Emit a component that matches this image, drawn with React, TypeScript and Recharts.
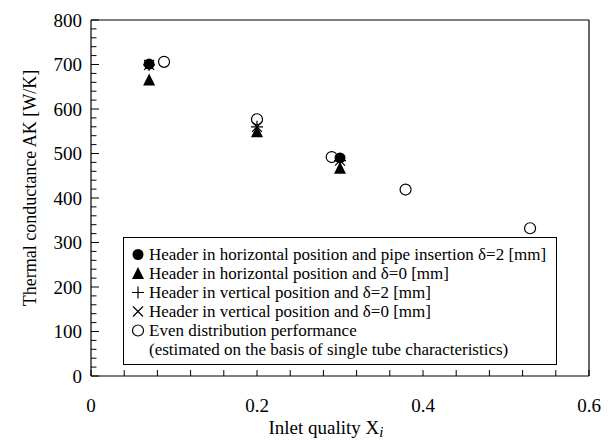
import React from "react";
import {
  ScatterChart, Scatter, XAxis, YAxis, ReferenceLine, Legend,
} from "recharts";

const xHorizPipe = [0.07, 0.3];
const yHorizPipe = [701, 490];

const xHoriz0 = [0.07, 0.2, 0.3];
const yHoriz0 = [665, 549, 467];

const xVert2 = [0.07, 0.2, 0.3];
const yVert2 = [699, 560, 484];

const xVert0 = [0.07, 0.2, 0.3];
const yVert0 = [699, 560, 484];

const xEven = [0.088, 0.2, 0.29, 0.379, 0.529];
const yEven = [706, 577, 492, 419, 332];

const xTicks = Array.from({ length: 16 }, (_, i) => Math.round(i * 4) / 100);
const xTickLabels = [0, 0.2, 0.4, 0.6];
const yTicks = Array.from({ length: 41 }, (_, i) => i * 20);
const yTickLabels = [0, 100, 200, 300, 400, 500, 600, 700, 800];

const FONT = '"Liberation Serif", "Times New Roman", serif';

const toPoints = (xs: number[], ys: number[]) => xs.map((x, i) => ({ x, y: ys[i] }));

type MarkerKind = "dot" | "tri" | "plus" | "cross" | "ring";

function Marker({ kind, cx, cy }: { kind: MarkerKind; cx: number; cy: number }) {
  const r = 5.5;
  switch (kind) {
    case "dot":
      return <circle cx={cx} cy={cy} r={r} fill="#000" />;
    case "ring":
      return <circle cx={cx} cy={cy} r={r} fill="none" stroke="#000" strokeWidth={1.2} />;
    case "tri":
      return <path d={`M${cx},${cy - 6.5} L${cx + 6},${cy + 5.5} L${cx - 6},${cy + 5.5} Z`} fill="#000" />;
    case "plus":
      return <path d={`M${cx - 6},${cy} H${cx + 6} M${cx},${cy - 6} V${cy + 6}`} stroke="#000" strokeWidth={1.2} />;
    case "cross":
      return <path d={`M${cx - 5},${cy - 5} L${cx + 5},${cy + 5} M${cx + 5},${cy - 5} L${cx - 5},${cy + 5}`} stroke="#000" strokeWidth={1.2} />;
  }
}

const series: { name: string; kind: MarkerKind; data: { x: number; y: number }[] }[] = [
  { name: "Header in horizontal position and pipe insertion \u03b4=2 [mm]", kind: "dot", data: toPoints(xHorizPipe, yHorizPipe) },
  { name: "Header in horizontal position and \u03b4=0 [mm]", kind: "tri", data: toPoints(xHoriz0, yHoriz0) },
  { name: "Header in vertical position and \u03b4=2 [mm]", kind: "plus", data: toPoints(xVert2, yVert2) },
  { name: "Header in vertical position and \u03b4=0 [mm]", kind: "cross", data: toPoints(xVert0, yVert0) },
  { name: "Even distribution performance", kind: "ring", data: toPoints(xEven, yEven) },
];

const XTick = (props: any) => {
  const { x, y, payload } = props;
  const v = payload.value;
  const labelled = xTickLabels.some((t) => Math.abs(t - v) < 1e-6);
  return (
    <g>
      <line x1={x} y1={y} x2={x} y2={y - 6} stroke="#000" strokeWidth={1} />
      {labelled && (
        <text x={x} y={y + 36} textAnchor="middle" fontSize={19} fontFamily={FONT} fill="#000">
          {v}
        </text>
      )}
    </g>
  );
};

const YTick = (props: any) => {
  const { x, y, payload } = props;
  const v = payload.value;
  const labelled = yTickLabels.includes(v);
  return (
    <g>
      <line x1={x} y1={y} x2={x + (labelled ? 8 : 5.5)} y2={y} stroke="#000" strokeWidth={1} />
      {labelled && (
        <text x={x - 9} y={y} dy="0.35em" textAnchor="end" fontSize={19} fontFamily={FONT} fill="#000">
          {v}
        </text>
      )}
    </g>
  );
};

const LegendBox = () => (
  <div
    style={{
      border: "1px solid #000",
      background: "#fff",
      width: 434,
      padding: "7px 0 5px 7px",
      fontFamily: FONT,
      fontSize: 17,
      lineHeight: "19px",
      color: "#000",
      boxSizing: "border-box",
    }}
  >
    {series.map((s) => (
      <div key={s.name} style={{ display: "flex", alignItems: "center", whiteSpace: "nowrap" }}>
        <svg width={15} height={19} style={{ flex: "none" }}>
          <Marker kind={s.kind} cx={7} cy={9.5} />
        </svg>
        <span style={{ marginLeft: 3 }}>{s.name}</span>
      </div>
    ))}
    <div style={{ paddingLeft: 18, whiteSpace: "nowrap" }}>
      (estimated on the basis of single tube characteristics)
    </div>
  </div>
);

export default function App() {
  return (
    <div style={{ position: "absolute", left: 0, top: 0, width: 611, height: 443, background: "#fff" }}>
      <ScatterChart width={611} height={443} margin={{ top: 20, right: 22, bottom: 0, left: 0 }}>
        <XAxis
          type="number"
          dataKey="x"
          domain={[0, 0.6]}
          ticks={xTicks}
          interval={0}
          height={67}
          tickSize={0}
          tickMargin={0}
          tick={<XTick />}
          axisLine={{ stroke: "#000", strokeWidth: 1.2 }}
          label={(p: any) => {
            const vb = p.viewBox;
            return (
              <text x={vb.x + vb.width / 2 - 14} y={vb.y + 58} textAnchor="middle" fontSize={19} fontFamily={FONT} fill="#000">
                Inlet quality X<tspan fontStyle="italic" fontSize={15} dy={3}>i</tspan>
              </text>
            );
          }}
        />
        <YAxis
          type="number"
          dataKey="y"
          domain={[0, 800]}
          ticks={yTicks}
          interval={0}
          width={91}
          tickSize={0}
          tickMargin={0}
          tick={<YTick />}
          axisLine={{ stroke: "#000", strokeWidth: 1.2 }}
          label={(p: any) => {
            const vb = p.viewBox;
            const cx = 30;
            const cy = vb.y + vb.height / 2 - 10;
            return (
              <text x={cx} y={cy} transform={`rotate(-90 ${cx} ${cy})`} textAnchor="middle" dominantBaseline="central" fontSize={18} fontFamily={FONT} fill="#000">
                Thermal conductance AK [W/K]
              </text>
            );
          }}
        />
        <ReferenceLine y={800} stroke="#000" strokeWidth={1.2} />
        <ReferenceLine x={0.6} stroke="#000" strokeWidth={1.2} />
        <Legend
          layout="vertical"
          align="center"
          verticalAlign="middle"
          content={<LegendBox />}
          wrapperStyle={{ left: 123, top: 237, width: "auto" }}
        />
        {[4, 1, 0, 2, 3].map((i) => {
          const s = series[i];
          return (
            <Scatter
              key={s.name}
              name={s.name}
              data={s.data}
              isAnimationActive={false}
              shape={(p: any) => <Marker kind={s.kind} cx={p.cx} cy={p.cy} />}
            />
          );
        })}
      </ScatterChart>
    </div>
  );
}
